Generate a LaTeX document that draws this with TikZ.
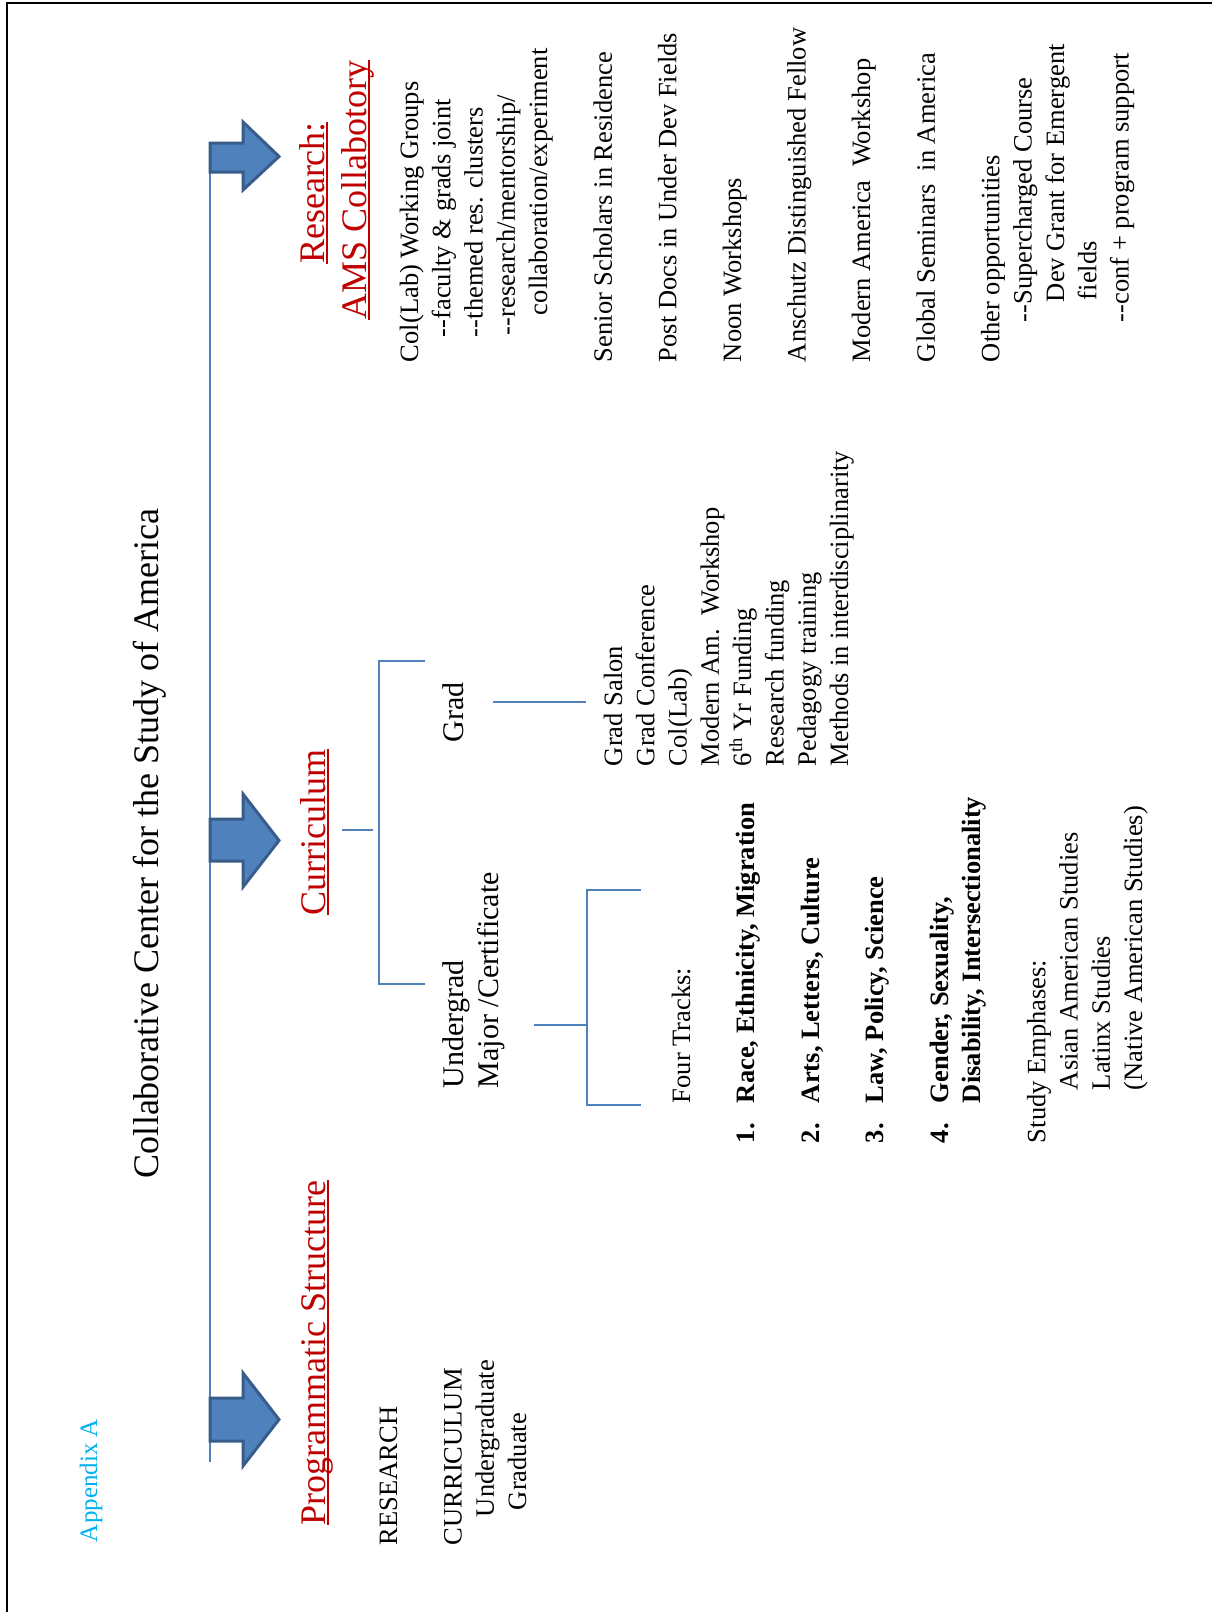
\documentclass[tikz,border=0pt]{standalone}
\usepackage{fontspec}
\setmainfont{Liberation Serif}
\definecolor{ablue}{HTML}{4F81BD}
\definecolor{aedge}{HTML}{385D8A}
\definecolor{ared}{HTML}{C00000}
\definecolor{acyan}{HTML}{00B0F0}
\newcommand{\setfs}[2]{\fontsize{#1}{#2}\selectfont}
\newcommand{\stackl}[1]{\begin{tabular}[t]{@{}l@{}}#1\end{tabular}}
\tikzset{
  txt/.style={rotate=90, anchor=base west, inner sep=0pt, outer sep=0pt},
  ctxt/.style={rotate=90, anchor=base, inner sep=0pt, outer sep=0pt},
  conn/.style={draw=ablue, line width=1.6pt, line join=miter},
  fat/.style={fill=ablue, draw=aedge, line width=3pt, line join=miter},
  uline/.style={draw=ared, line width=2pt},
  frame/.style={draw=black, line width=2.5pt},
  big/.style={font=\setfs{36}{43}},
  mid/.style={font=\setfs{30}{35}},
  small/.style={font=\setfs{26.5}{32.3}},
}
\begin{document}
\begin{tikzpicture}[x=1pt,y=-1pt]
\useasboundingbox (0,0) rectangle (1211,1612);
\fill[white] (0,0) rectangle (1211,1612);
\draw[frame] (7,1640) -- (7,3) -- (1240,3);

% main vertical line
\coordinate (vtop) at (210,165);
\coordinate (vbot) at (210,1462);
\draw[conn] (vtop) -- (vbot);

% block arrows
\draw[fat] (210,143) -- (243,143) -- (243,122) -- (279,156.5) -- (243,190) -- (243,172) -- (210,172) -- cycle;
\draw[fat] (210,819) -- (243,819) -- (243,794) -- (279,840.5) -- (243,887) -- (243,861) -- (210,861) -- cycle;
\draw[fat] (210,1398) -- (243,1398) -- (243,1373) -- (279,1419.5) -- (243,1466) -- (243,1441) -- (210,1441) -- cycle;

% header texts
\node[txt, text=acyan, font=\setfs{25}{30}] (app) at (97,1542) {Appendix A};
\node[txt, big] (title) at (158,1178) {Collaborative Center for the Study of America};

\node[txt, big, text=ared] (prog) at (325,1525) {Programmatic Structure};
\draw[uline] ([xshift=3pt]prog.base west) -- ([xshift=3pt]prog.base east);

\node[txt, big, text=ared] (curr) at (325,915) {Curriculum};
\draw[uline] ([xshift=3pt]curr.base west) -- ([xshift=3pt]curr.base east);

\node[ctxt, big, text=ared] (res1) at (324,193) {Research:};
\draw[uline] ([xshift=3pt]res1.base west) -- ([xshift=3pt]res1.base east);
\node[ctxt, big, text=ared] (res2) at (366,190) {AMS Collabotory};
\draw[uline] ([xshift=3pt]res2.base west) -- ([xshift=3pt]res2.base east);

% left block
\node[txt, small] (left) at (397,1545) {\stackl{RESEARCH\\ \\CURRICULUM\\\hspace*{28pt}Undergraduate\\\hspace*{35pt}Graduate}};

% curriculum branches
\node[txt, mid] (ug) at (463,1088) {\stackl{Undergrad\\Major /Certificate}};
\node[txt, mid] (grad) at (463,742) {Grad};

\coordinate (c1a) at (342,830);
\coordinate (c1b) at (373,830);
\draw[conn] (c1a) -- (c1b);
\coordinate (b1t) at (425,661);
\coordinate (b1b) at (425,984);
\draw[conn] (b1t) -- (379,661) -- (379,984) -- (b1b);

\coordinate (g1a) at (493,702);
\coordinate (g1b) at (586,702);
\draw[conn] (g1a) -- (g1b);

\coordinate (u1a) at (534,1025);
\coordinate (u1b) at (587,1025);
\draw[conn] (u1a) -- (u1b);
\coordinate (b2t) at (641,890);
\coordinate (b2b) at (641,1105);
\draw[conn] (b2t) -- (587,890) -- (587,1105) -- (b2b);

% grad list
\node[txt, small] (glist) at (622,766) {\stackl{Grad Salon\\Grad Conference\\Col(Lab)\\Modern Am.\ \ Workshop\\6\textsuperscript{th} Yr Funding\\Research funding\\Pedagogy training\\Methods in interdisciplinarity}};

% four tracks
\node[txt, small] (tracks) at (690,1143) {\stackl{\hspace*{40pt}Four Tracks:\\ \\
\textbf{\makebox[40pt][l]{1.}Race, Ethnicity, Migration}\\ \\
\textbf{\makebox[40pt][l]{2.}Arts, Letters, Culture}\\ \\
\textbf{\makebox[40pt][l]{3.}Law, Policy, Science}\\ \\
\textbf{\makebox[40pt][l]{4.}Gender, Sexuality,}\\
\textbf{\hspace*{40pt}Disability, Intersectionality}\\ \\
Study Emphases:\\
\hspace*{53pt}Asian American Studies\\
\hspace*{53pt}Latinx Studies\\
\hspace*{53pt}(Native American Studies)}};

% research list
\node[txt, small] (rlist) at (418,362) {\stackl{Col(Lab) Working Groups\\
\hspace*{25pt}-{}-faculty \& grads joint\\
\hspace*{25pt}-{}-themed res. clusters\\
\hspace*{27pt}-{}-research/mentorship/\\
\hspace*{47pt}collaboration/experiment\\ \\
Senior Scholars in Residence\\ \\
Post Docs in Under Dev Fields\\ \\
Noon Workshops\\ \\
Anschutz Distinguished Fellow\\ \\
Modern America\ \ Workshop\\ \\
Global Seminars\ \ in America\\ \\
Other opportunities\\
\hspace*{40pt}-{}-Supercharged Course\\
\hspace*{60pt}Dev Grant for Emergent\\
\hspace*{62pt}fields\\
\hspace*{40pt}-{}-conf + program support}};
\end{tikzpicture}
\end{document}
